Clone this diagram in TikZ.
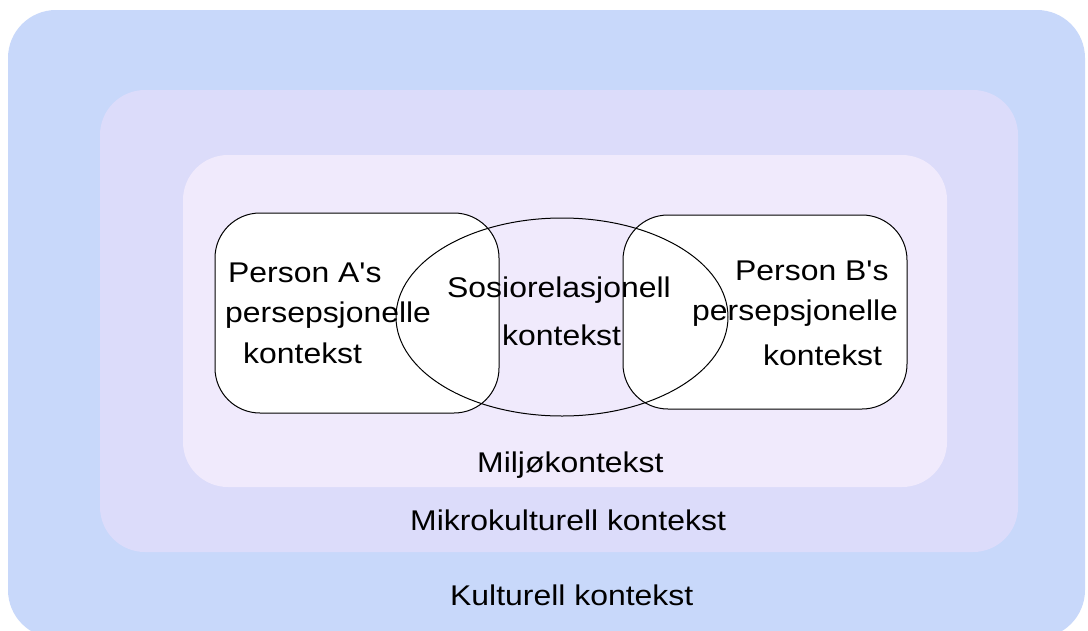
\documentclass[tikz,border=0pt]{standalone}
\usepackage{fontspec}
\setmainfont[FakeStretch=1.12,Ligatures=TeXOff]{Liberation Sans}
\definecolor{outerc}{RGB}{200,216,250}
\definecolor{midc}{RGB}{220,220,250}
\definecolor{innerc}{RGB}{240,234,252}
\begin{document}
\begin{tikzpicture}[x=1pt,y=-1pt,
  lbl/.style={anchor=base west,inner sep=0pt,font=\fontsize{28.5pt}{34pt}\selectfont},
  ctxbox/.style={draw=black,line width=1pt,fill=white,rounded corners=45pt}]
\useasboundingbox (0,0) rectangle (1088,630);
\fill[white] (0,0) rectangle (1088,630);
\begin{scope}
\clip (0,0) rectangle (1088,630);
\fill[outerc,rounded corners=48pt] (8,10) rectangle (1085,638);
\end{scope}
\fill[midc,rounded corners=45pt] (100,90) rectangle (1018,552);
\fill[innerc,rounded corners=45pt] (183,155) rectangle (947,487);
\draw[ctxbox] (215,213) rectangle (499,413);
\draw[ctxbox] (623,215) rectangle (907,409);
\draw[line width=1pt] (562,317) ellipse [x radius=166, y radius=99];
\node[lbl] (a1) at (228,282) {Person A's};
\node[lbl] (a2) at (225,322) {persepsjonelle};
\node[lbl] (a3) at (243,363) {kontekst};
\node[lbl] (s1) at (447,297) {Sosiorelasjonell};
\node[lbl] (s2) at (502,345) {kontekst};
\node[lbl] (b1) at (735,280) {Person B's};
\node[lbl] (b2) at (692,320) {persepsjonelle};
\node[lbl] (b3) at (763,365) {kontekst};
\node[lbl] (m1) at (477,472) {Miljøkontekst};
\node[lbl] (m2) at (410,530) {Mikrokulturell kontekst};
\node[lbl] (k1) at (450,605) {Kulturell kontekst};
\end{tikzpicture}
\end{document}
